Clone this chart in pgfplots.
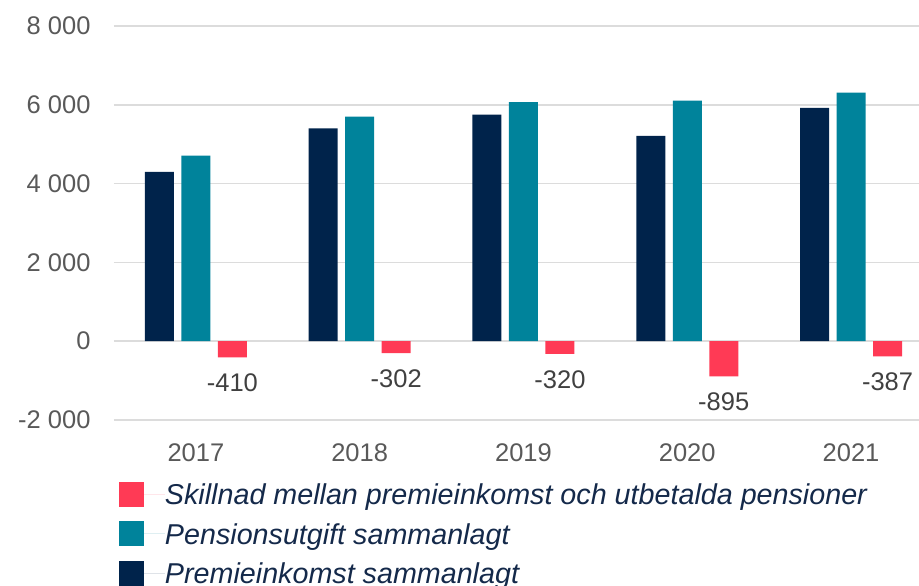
\documentclass[border=0pt]{standalone}
\usepackage{pgfplots}
\pgfplotsset{compat=1.18}
\usepackage{fontspec}
\setmainfont{Liberation Sans}
\definecolor{navy}{HTML}{00234B}
\definecolor{teal2}{HTML}{00839B}
\definecolor{pink2}{HTML}{FF3A55}
\definecolor{tickgray}{HTML}{595959}
\definecolor{lblgray}{HTML}{404040}
\definecolor{legtext}{HTML}{14294A}
\definecolor{gridgray}{HTML}{DCDCDC}
\pgfplotsset{sqlegend/.style={legend image code/.code={%
  \fill[##1,draw=none] (0pt,-12.5pt) rectangle (25pt,12.5pt);
  \path (0pt,0pt) -- (46pt,0pt);}}}
\begin{document}
\begin{tikzpicture}
\begin{axis}[
  at={(114pt,-420pt)}, anchor=south west,
  scale only axis, width=805pt, height=394pt,
  xmin=-0.5, xmax=4.415, ymin=-2000, ymax=8000,
  ybar, bar width=29pt,
  axis line style={draw=none},
  major tick length=0pt,
  xtick={0,1,2,3,4}, xticklabels={2017,2018,2019,2020,2021},
  ytick={-2000,0,2000,4000,6000,8000},
  yticklabels={-2 000,0,2 000,4 000,6 000,8 000},
  ymajorgrids, grid style={gridgray, line width=1.6pt},
  tick label style={font=\fontsize{25.5pt}{30pt}\selectfont, text=tickgray},
  xticklabel style={yshift=-20pt},
  yticklabel style={xshift=-20pt},
  legend style={at={(0,0)}, anchor=north west, xshift=5pt, yshift=-61.5pt,
    draw=none, fill=none, inner sep=0pt, outer sep=0pt, row sep=14.5pt,
    font=\fontsize{28.7pt}{34pt}\selectfont\itshape, text=legtext,
    nodes={inner sep=0pt, text height=21pt, text depth=0pt},
    cells={anchor=west}},
  reverse legend,
  clip=false,
]
\addplot[fill=navy, draw=none, bar shift=-36.5pt, sqlegend]
  coordinates {(0,4300) (1,5400) (2,5750) (3,5210) (4,5920)};
\addlegendentry{Premieinkomst sammanlagt}
\addplot[fill=teal2, draw=none, bar shift=0pt, sqlegend]
  coordinates {(0,4710) (1,5702) (2,6070) (3,6105) (4,6307)};
\addlegendentry{Pensionsutgift sammanlagt}
\addplot[fill=pink2, draw=none, bar shift=36.5pt, sqlegend,
  point meta=explicit symbolic, nodes near coords,
  every node near coord/.append style={anchor=north, yshift=-13pt,
    font=\fontsize{25.5pt}{30pt}\selectfont, text=lblgray}]
  coordinates {(0,-410) [-410] (1,-302) [-302] (2,-320) [-320] (3,-895) [-895] (4,-387) [-387]};
\addlegendentry{Skillnad mellan premieinkomst och utbetalda pensioner}
\end{axis}
\pgfresetboundingbox
\path[use as bounding box] (0pt,0pt) rectangle (919pt,-586pt);
\end{tikzpicture}
\end{document}
